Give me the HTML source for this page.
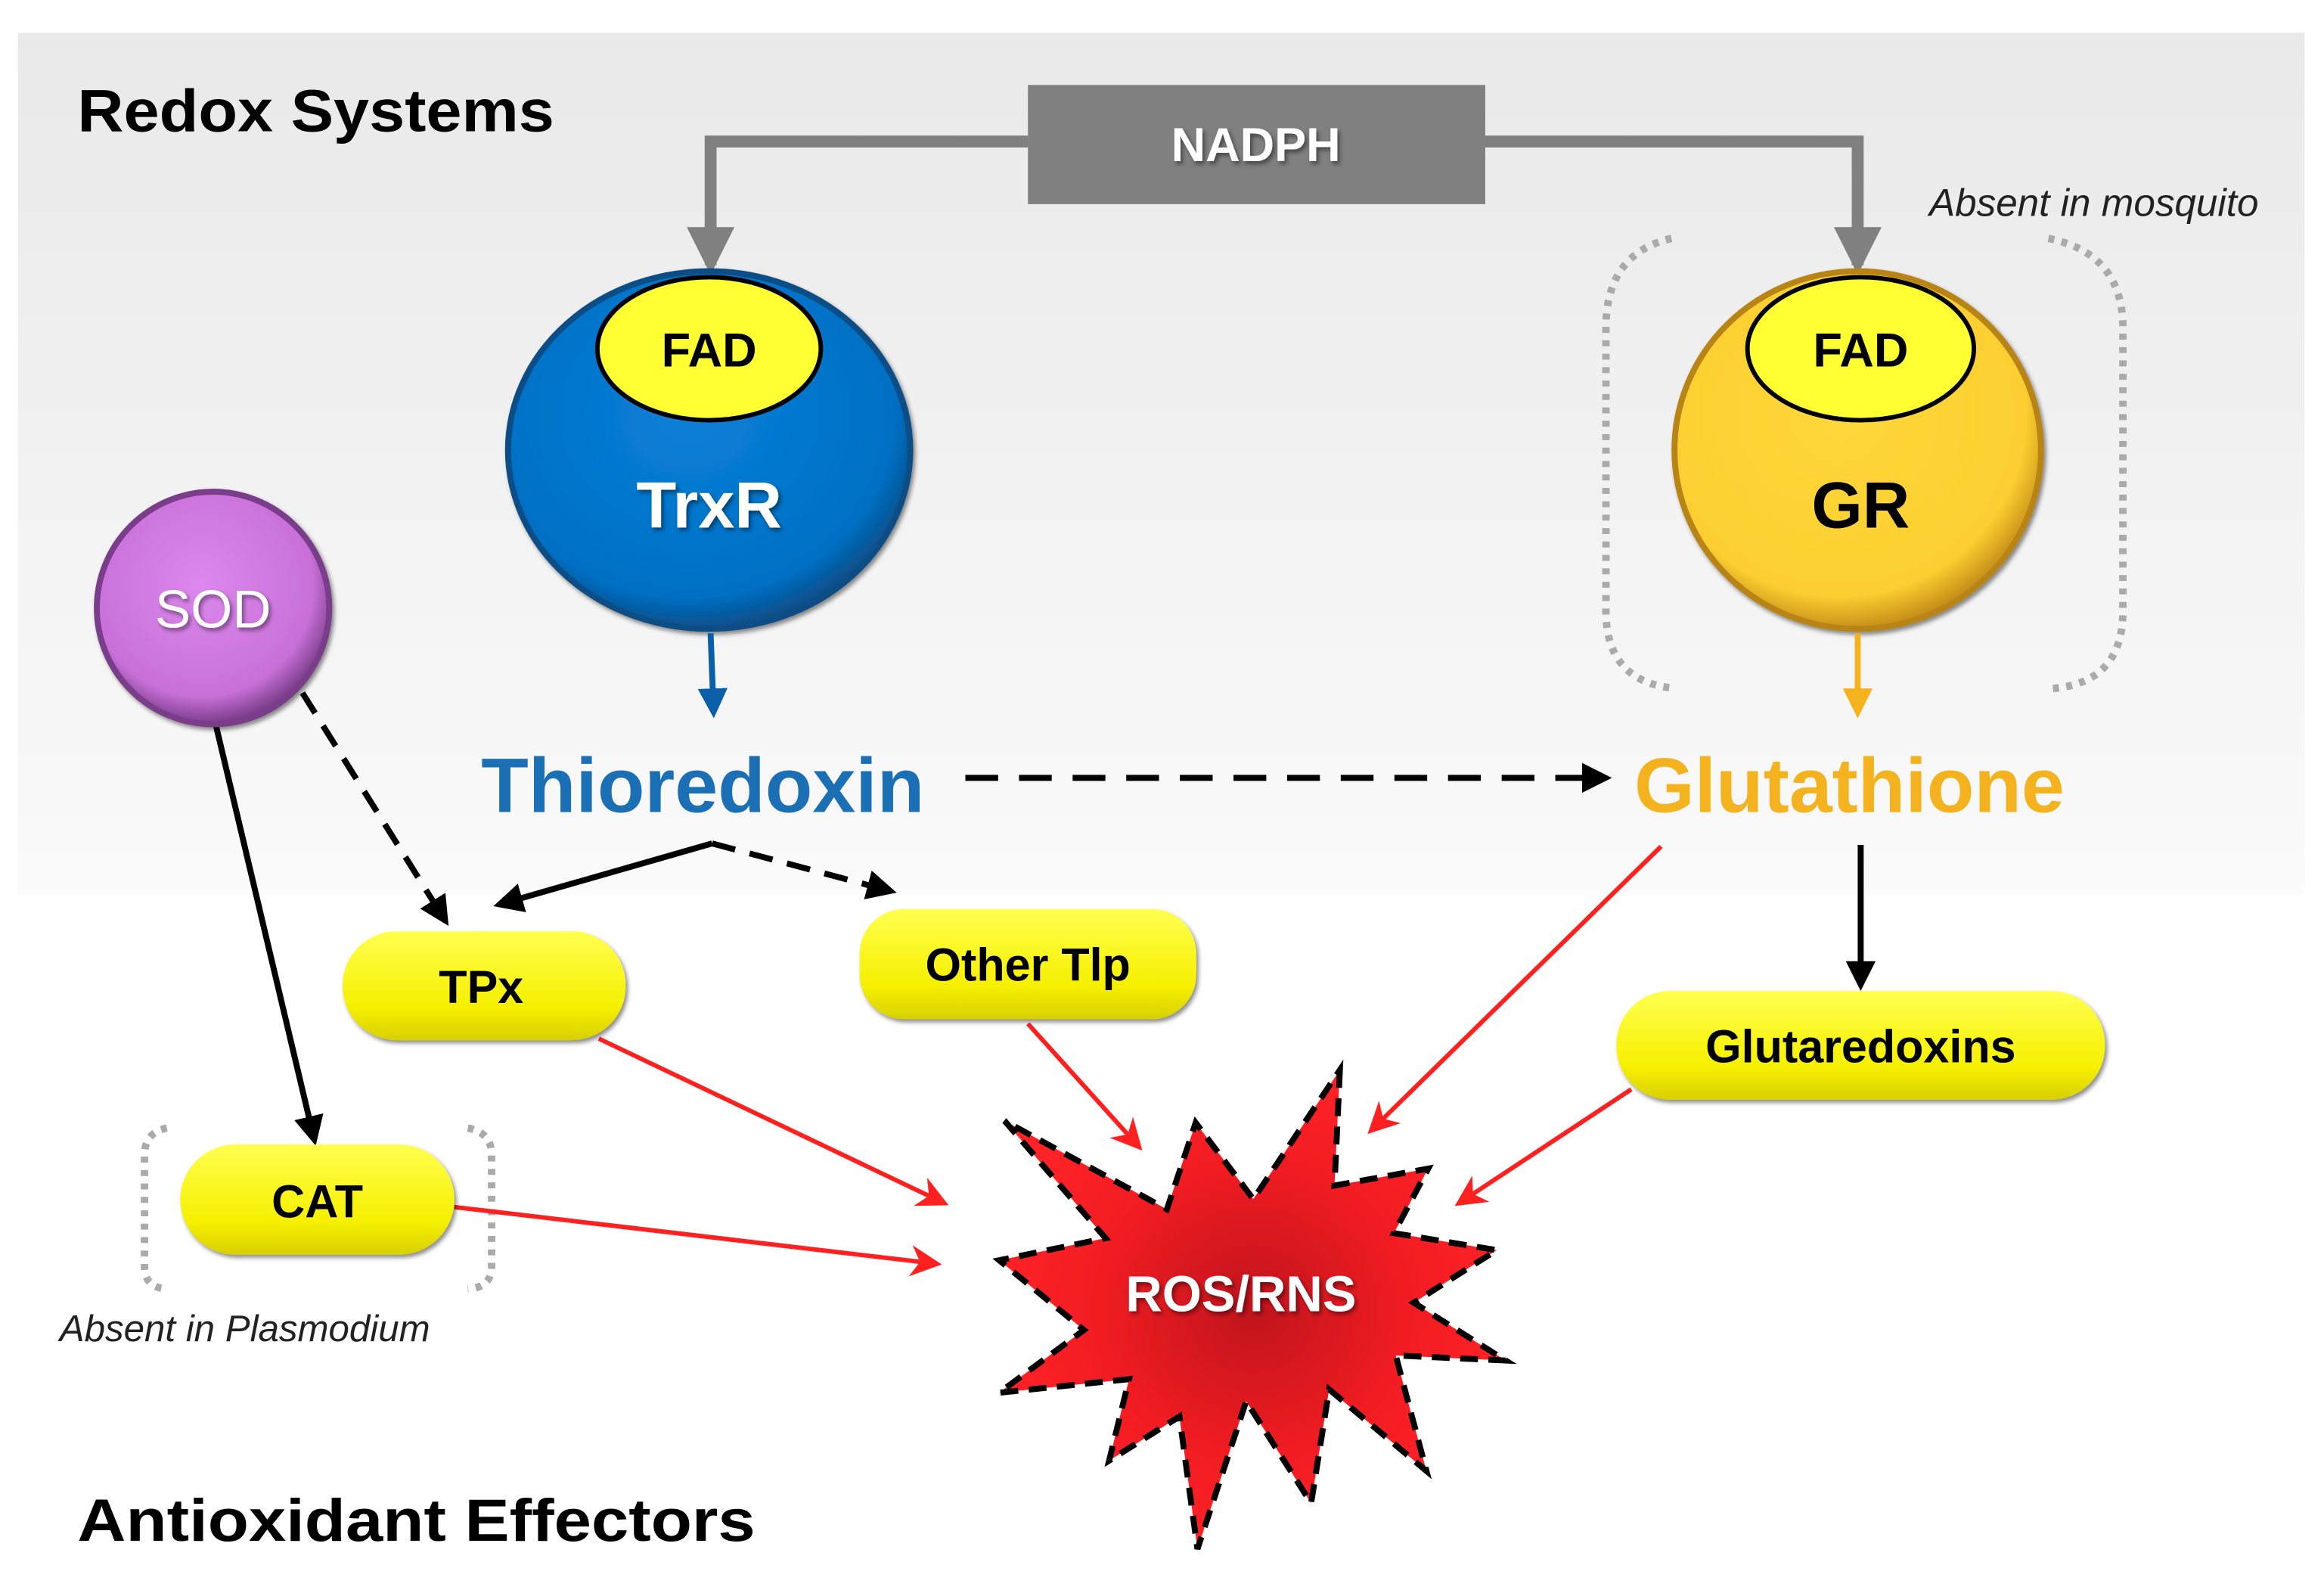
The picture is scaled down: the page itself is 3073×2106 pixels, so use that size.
<!DOCTYPE html>
<html><head><meta charset="utf-8"><style>html,body{margin:0;padding:0;background:#fff}svg{display:block}</style></head>
<body>
<svg width="3073" height="2106" viewBox="0 0 1560 1069" preserveAspectRatio="none" xmlns="http://www.w3.org/2000/svg" font-family="Liberation Sans, sans-serif">
<defs>
<linearGradient id="bg" x1="0" y1="0" x2="0" y2="1"><stop offset="0" stop-color="#e9e9e9"/><stop offset="0.55" stop-color="#fafafa"/><stop offset="0.56" stop-color="#fff"/><stop offset="1" stop-color="#fff"/></linearGradient>
<radialGradient id="star" cx="0.5" cy="0.5" r="0.5"><stop offset="0" stop-color="#c0141c"/><stop offset="0.6" stop-color="#f01c22"/><stop offset="1" stop-color="#ff2226"/></radialGradient>
<linearGradient id="pill" x1="0" y1="0" x2="0" y2="1"><stop offset="0" stop-color="#ffff50"/><stop offset="0.7" stop-color="#f6f000"/><stop offset="1" stop-color="#d8d000"/></linearGradient>
<radialGradient id="trx" cx="0.45" cy="0.4" r="0.6"><stop offset="0" stop-color="#0a7fd8"/><stop offset="0.85" stop-color="#0070c4"/><stop offset="1" stop-color="#0a4f8a"/></radialGradient>
<radialGradient id="gr" cx="0.45" cy="0.4" r="0.6"><stop offset="0" stop-color="#ffd83a"/><stop offset="0.85" stop-color="#fcce30"/><stop offset="1" stop-color="#c8901a"/></radialGradient>
<radialGradient id="sod" cx="0.45" cy="0.4" r="0.6"><stop offset="0" stop-color="#dd88ee"/><stop offset="0.8" stop-color="#c870d8"/><stop offset="1" stop-color="#7a3d8a"/></radialGradient>
<marker id="ab" viewBox="0 0 10 10" refX="8" refY="5" markerWidth="5" markerHeight="5" orient="auto"><path d="M0,0L10,5L0,10z" fill="#000"/></marker>
<marker id="ar" viewBox="0 0 10 10" refX="8" refY="5" markerWidth="7" markerHeight="7" orient="auto"><path d="M0,0L10,5L0,10L3,5z" fill="#ff2020"/></marker>
<marker id="ag" viewBox="0 0 10 10" refX="8" refY="5" markerWidth="4" markerHeight="4" orient="auto"><path d="M0,0L10,5L0,10z" fill="#808080"/></marker>
<marker id="abl" viewBox="0 0 10 10" refX="8" refY="5" markerWidth="5" markerHeight="5" orient="auto"><path d="M0,0L10,5L0,10z" fill="#0a5fa8"/></marker>
<marker id="ao" viewBox="0 0 10 10" refX="8" refY="5" markerWidth="5" markerHeight="5" orient="auto"><path d="M0,0L10,5L0,10z" fill="#f5b21f"/></marker>
<filter id="sh"><feDropShadow dx="1.5" dy="2" stdDeviation="1.5" flood-opacity="0.45"/></filter>
</defs>
<rect x="12" y="22" width="1535" height="1040" fill="url(#bg)"/>
<text x="52" y="88" font-size="40" font-weight="bold" textLength="320" lengthAdjust="spacingAndGlyphs">Redox Systems</text>
<text x="52" y="1034" font-size="40" font-weight="bold" textLength="455" lengthAdjust="spacingAndGlyphs">Antioxidant Effectors</text>
<polyline points="690,95 477,95 477,178" fill="none" stroke="#808080" stroke-width="8" marker-end="url(#ag)"/>
<polyline points="997,95 1247,95 1247,178" fill="none" stroke="#808080" stroke-width="8" marker-end="url(#ag)"/>
<rect x="690" y="57" width="307" height="80" fill="#808080"/>
<text x="843" y="108" font-size="32" font-weight="bold" fill="#fff" text-anchor="middle" filter="url(#sh)">NADPH</text>
<text x="1295" y="145" font-size="26" font-style="italic" fill="#222">Absent in mosquito</text>
<path d="M1122,160 Q1078,170 1078,220 L1078,410 Q1078,458 1125,462" fill="none" stroke="#aaa" stroke-width="5" stroke-dasharray="4,5"/>
<path d="M1375,160 Q1425,170 1425,220 L1425,410 Q1425,458 1378,462" fill="none" stroke="#aaa" stroke-width="5" stroke-dasharray="4,5"/>
<ellipse cx="476" cy="302" rx="135" ry="120" fill="url(#trx)" stroke="#0a4d86" stroke-width="4" filter="url(#sh)"/>
<ellipse cx="476" cy="234" rx="75" ry="48" fill="#ffff33" stroke="#000" stroke-width="3"/>
<text x="476" y="246" font-size="32" font-weight="bold" text-anchor="middle">FAD</text>
<text x="476" y="354" font-size="44" font-weight="bold" fill="#fff" text-anchor="middle" filter="url(#sh)">TrxR</text>
<ellipse cx="1247" cy="302" rx="123" ry="120" fill="url(#gr)" stroke="#b88418" stroke-width="4" filter="url(#sh)"/>
<ellipse cx="1249" cy="234" rx="76" ry="48" fill="#ffff33" stroke="#000" stroke-width="3"/>
<text x="1249" y="246" font-size="32" font-weight="bold" text-anchor="middle">FAD</text>
<text x="1249" y="354" font-size="44" font-weight="bold" text-anchor="middle">GR</text>
<line x1="477" y1="425" x2="479" y2="478" stroke="#0a5fa8" stroke-width="4" marker-end="url(#abl)"/>
<line x1="1247" y1="425" x2="1247" y2="478" stroke="#f5b21f" stroke-width="4" marker-end="url(#ao)"/>
<text x="323" y="545" font-size="52" font-weight="bold" fill="#1a6fb5">Thioredoxin</text>
<text x="1097" y="545" font-size="52" font-weight="bold" fill="#f5b21f">Glutathione</text>
<line x1="648" y1="522" x2="1078" y2="522" stroke="#000" stroke-width="4" stroke-dasharray="22,14" marker-end="url(#ab)"/>
<line x1="145" y1="487" x2="211" y2="765" stroke="#000" stroke-width="4" marker-end="url(#ab)"/>
<line x1="203" y1="465" x2="299" y2="618" stroke="#000" stroke-width="4" stroke-dasharray="16,10" marker-end="url(#ab)"/>
<circle cx="143" cy="408" r="78" fill="url(#sod)" stroke="#7a3d8a" stroke-width="4" filter="url(#sh)"/>
<text x="143" y="421" font-size="36" fill="#fff" text-anchor="middle" filter="url(#sh)">SOD</text>
<polyline points="478,566 335,607" fill="none" stroke="#000" stroke-width="4" marker-end="url(#ab)"/>
<line x1="478" y1="566" x2="598" y2="598" stroke="#000" stroke-width="4" stroke-dasharray="16,10" marker-end="url(#ab)"/>
<line x1="1249" y1="567" x2="1249" y2="661" stroke="#000" stroke-width="4" marker-end="url(#ab)"/>
<path d="M112,757 Q97,760 97,775 L97,850 Q97,864 112,865" fill="none" stroke="#aaa" stroke-width="5" stroke-dasharray="4,5"/>
<path d="M314,757 Q330,760 330,775 L330,850 Q330,864 314,865" fill="none" stroke="#aaa" stroke-width="5" stroke-dasharray="4,5"/>
<text x="40" y="900" font-size="25" font-style="italic" fill="#222">Absent in Plasmodium</text>
<g stroke="#ff2020" stroke-width="3" marker-end="url(#ar)">
<line x1="402" y1="697" x2="633" y2="807"/>
<line x1="690" y1="687" x2="764" y2="769"/>
<line x1="1115" y1="568" x2="921" y2="758"/>
<line x1="1095" y1="731" x2="980" y2="807"/>
<line x1="305" y1="810" x2="628" y2="848"/>
</g>
<g filter="url(#sh)">
<rect x="230" y="625" width="190" height="73" rx="36" fill="url(#pill)"/>
<rect x="577" y="610" width="226" height="74" rx="30" fill="url(#pill)"/>
<rect x="1085" y="665" width="328" height="73" rx="36" fill="url(#pill)"/>
<rect x="121" y="768" width="184" height="74" rx="37" fill="url(#pill)"/>
</g>
<g font-size="31" font-weight="bold" text-anchor="middle">
<text x="323" y="673">TPx</text>
<text x="690" y="658">Other Tlp</text>
<text x="1249" y="713">Glutaredoxins</text>
<text x="213" y="817">CAT</text>
</g>
<polygon points="899.4,718 895.8,795.6 958.7,784.2 935.7,827.5 1004.7,838.9 949,874.2 1010.7,913 936.9,909.6 957.5,987.1 892.2,932.4 880.1,1008.7 836.5,940.3 803.8,1039.5 791.7,950.6 744.5,980.2 757.9,925.5 670.7,934.6 727.6,892.5 670.7,845.7 742.1,830.9 674.4,752.2 783.3,811.5 802.6,753.4 841.3,804.7" fill="url(#star)" stroke="#000" stroke-width="4" stroke-dasharray="12,7" stroke-linejoin="miter"/>
<text x="833" y="880" font-size="34" font-weight="bold" fill="#fff" text-anchor="middle" filter="url(#sh)">ROS/RNS</text>
</svg>
</body></html>
